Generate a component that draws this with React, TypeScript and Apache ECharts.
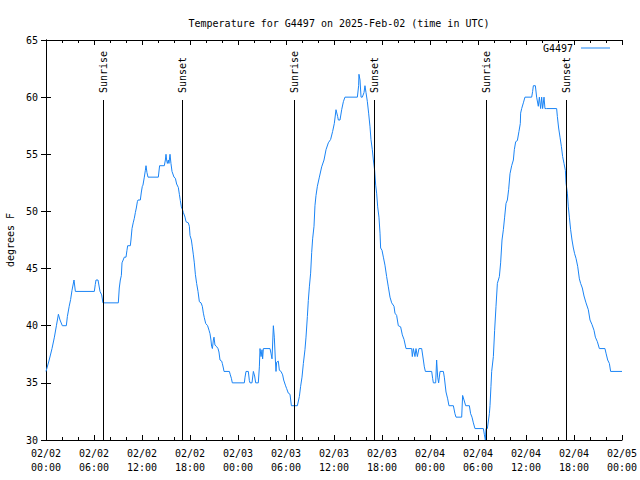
import React, { useEffect, useRef } from "react";
import * as echarts from "echarts";

// Time origin: 2025-02-02 00:00 UTC; x values are hours since then
const START_MS = Date.UTC(2025, 1, 2, 0, 0, 0);

const hours = [
  0.0, 0.4, 0.75, 1.05, 1.3, 1.55, 1.75, 2.04, 2.54, 2.67, 2.9, 3.08, 3.25, 3.5, 3.67,
  6.04, 6.16, 6.25, 6.5, 6.75, 6.96, 7.12, 9.04, 9.16, 9.29, 9.42, 9.5, 9.79, 10.0,
  10.12, 10.21, 10.54, 10.62, 10.75, 10.9, 11.04, 11.17, 11.29, 11.42, 11.5, 11.79,
  11.92, 12.04, 12.12, 12.29, 12.42, 12.5, 12.62, 12.75, 14.04, 14.2, 14.79, 14.92,
  15.0, 15.08, 15.17, 15.29, 15.37, 15.5, 15.62, 15.75, 16.0, 16.17, 16.33, 16.54,
  16.67, 16.79, 16.92, 17.04, 17.17, 17.38, 17.5, 17.79, 17.92, 18.0, 18.17, 18.29,
  18.42, 18.54, 18.67, 18.83, 19.0, 19.17, 19.38, 19.54, 19.67, 19.79, 19.96, 20.2,
  20.38, 20.5, 20.62, 20.7, 20.8, 20.92, 21.0, 21.12, 21.3, 21.5, 21.62, 21.75, 21.96,
  22.04, 22.17, 22.25, 22.92, 23.04, 23.17, 23.29, 24.79, 24.88, 25.0, 25.29, 25.42,
  25.5, 25.75, 25.92, 26.08, 26.21, 26.54, 26.67, 26.75, 26.88, 27.0, 27.08, 27.17,
  28.0, 28.12, 28.25, 28.33, 28.42, 28.54, 28.67, 28.75, 28.83, 29.04, 29.17, 29.38,
  29.58, 29.71, 29.92, 30.08, 30.29, 30.5, 30.67, 31.42, 31.67, 31.83, 32.0, 32.17,
  32.37, 32.5, 32.67, 32.79, 32.92, 33.08, 33.21, 33.33, 33.5, 33.62, 33.75, 33.92,
  34.17, 34.46, 34.75, 35.0, 35.29, 35.58, 35.83, 36.04, 36.25, 36.46, 36.54, 36.75,
  36.96, 37.17, 37.37, 38.92, 39.08, 39.12, 39.25, 39.38, 39.54, 39.75, 39.87, 40.0,
  40.17, 40.33, 40.5, 40.62, 40.79, 40.92, 41.08, 41.21, 41.33, 41.46, 41.62, 41.75,
  41.83, 42.0, 42.17, 42.37, 42.58, 42.79, 43.0, 43.21, 43.5, 43.62, 43.83, 44.04,
  44.33, 44.54, 44.75, 45.0, 45.71, 45.79, 45.92, 46.12, 46.25, 46.42, 46.62, 46.96,
  47.17, 47.29, 47.42, 48.21, 48.33, 48.42, 48.71, 48.83, 48.96, 49.08, 49.25, 49.67,
  49.79, 50.0, 50.21, 50.37, 50.92, 51.12, 51.25, 51.96, 52.08, 52.25, 52.46, 52.92,
  53.08, 53.25, 53.42, 53.62, 54.67, 54.79, 54.92, 55.0, 55.17, 55.42, 55.5, 55.62,
  55.71, 55.92, 56.08, 56.25, 56.42, 56.67, 56.83, 57.0, 57.17, 57.33, 57.5, 57.67,
  57.83, 58.0, 58.21, 58.42, 58.54, 58.71, 58.92, 59.12, 59.29, 59.33, 59.46, 59.67,
  59.87, 60.71, 60.83, 60.92, 61.17, 61.33, 61.54, 61.67, 61.83, 61.96, 62.08, 62.25,
  62.37, 62.58, 63.83, 63.92, 64.08, 64.25, 64.42, 64.58, 64.75, 64.92, 65.0, 65.17,
  65.29, 65.42, 65.58, 65.75, 65.92, 66.08, 66.25, 66.46, 66.67, 66.83, 67.04, 67.25,
  67.5, 67.79, 68.0, 68.25, 68.5, 68.67, 68.92, 69.17, 69.87, 70.0, 70.21, 70.42,
  70.58, 72.0,
];

const temps = [
  36, 37, 38, 39, 40, 41, 40.5, 40, 40, 40.8, 41.7, 42.3, 43.1, 44, 43,
  43, 43.6, 44, 44, 43, 42.7, 42, 42, 43.3, 44, 44.4, 45.5, 46, 46,
  46.6, 47, 47, 47.5, 48.5, 49, 49.4, 49.9, 50.3, 50.85, 51, 51,
  51.7, 52.2, 52.3, 53, 53.6, 54, 53.4, 53, 53, 54, 54, 54.5,
  55, 54.5, 54.2, 54.5, 54.2, 55, 54.2, 53.5, 53, 52.9, 52.4, 52.1,
  51.5, 50.95, 50.4, 50.2, 49.9, 49.5, 49.1, 49.0, 48.7, 47.9, 47.5, 46.9,
  46.2, 45.5, 44.5, 43.7, 43.0, 42.1, 42.0, 41.7, 41.1, 40.7, 40.2, 40,
  39.6, 39.3, 38.75, 38.2, 38, 38.75, 39, 38.3, 38.2, 38, 37.7, 37, 36.9,
  36.7, 36.3, 36, 36, 35.7, 35.4, 35, 35, 35.5, 36, 36, 35.2,
  35, 35, 36, 35.6, 35, 35, 36.4, 38, 37.3, 37.9, 37.1, 38,
  38, 37.6, 37.1, 38.4, 40, 39, 37, 36, 36.8, 36.9, 36.1, 36,
  35.7, 35.25, 34.8, 34.5, 34.1, 34, 33, 33, 33.8, 34.7, 35.5, 36.7,
  37.9, 39, 40.8, 42.2, 43.4, 44.6, 46.4, 47.6, 48.7, 50.5, 51.4, 52.2,
  53, 53.9, 54.5, 55.4, 56, 56.3, 57, 57.7, 58.9, 58.3, 58, 58,
  58.9, 59.6, 60, 60, 61, 62, 61.5, 60, 60, 60.4, 61, 60.4,
  59.6, 58.6, 57.4, 56.3, 55.4, 54.5, 53.6, 52.3, 51.6, 50.4, 49.5, 48.1,
  46.8, 46.6, 46, 45.3, 44.3, 43.4, 42.5, 42, 41.7, 41.1, 40.9, 40,
  39.9, 39.2, 38.8, 38, 38, 37.3, 38, 37.3, 38, 37.3, 38, 38,
  37, 36.4, 36, 36, 35.4, 35, 35, 37, 35.5, 35, 36, 36,
  35.5, 34.2, 33.6, 33, 33, 32.3, 32, 32, 33.9, 33.5, 33, 33,
  32.3, 32, 31.5, 31, 31, 30.5, 30, 31, 31, 32.3, 33, 34.7,
  36, 37.3, 39.6, 41.7, 43.7, 44.3, 45.5, 47.5, 48.4, 49.5, 50.7, 51,
  51.9, 53.3, 54, 54.5, 55.4, 56.1, 56.2, 57, 57.7, 58.6, 59, 59.5,
  60, 60, 60.5, 61, 61, 60, 59.2, 60, 59, 60, 59, 60,
  59, 59, 59, 58.3, 57.3, 56.5, 55.7, 54.8, 54.2, 53.6, 52.5, 51.6,
  50.4, 49.5, 48.4, 47.5, 46.8, 46.3, 45.9, 45.2, 44.1, 43.7, 43.3, 42.6,
  42, 41.4, 40.5, 40.1, 39.6, 39, 38.6, 38, 38, 37.6, 37, 36.7,
  36, 36,
];

const eventNames = ["Sunrise", "Sunset", "Sunrise", "Sunset", "Sunrise", "Sunset"];
const eventHours = [7.15, 17.05, 31.05, 41.05, 55.05, 65.05];
const eventLineTop = 59.75; // degrees F where the marker lines stop

const X_MIN = 0;
const X_MAX = 72;
const X_STEP = 6;
const Y_MIN = 30;
const Y_MAX = 65;
const Y_STEP = 5;

const seriesName = "G4497";
const titleText = "Temperature for G4497 on 2025-Feb-02 (time in UTC)";
const yName = "degrees F";

const FONT = '"DejaVu Sans Mono", "Liberation Mono", monospace';
const LINE_COLOR = "#1a84f5";

function pad(n: number) {
  return n < 10 ? "0" + n : "" + n;
}
function fmtHour(v: number) {
  const d = new Date(START_MS + v * 3600 * 1000);
  return (
    pad(d.getUTCMonth() + 1) + "/" + pad(d.getUTCDate()) + "\n" +
    pad(d.getUTCHours()) + ":" + pad(d.getUTCMinutes())
  );
}

export default function App() {
  const ref = useRef<HTMLDivElement>(null);
  useEffect(() => {
    if (!ref.current) return;
    const chart = echarts.init(ref.current, null, { renderer: "svg" });
    const axisLine = { show: true, lineStyle: { color: "#000", width: 1 } };
    const option: any = {
      animation: false,
      backgroundColor: "#fff",
      textStyle: { fontFamily: FONT, color: "#000" },
      title: {
        text: titleText,
        left: 334,
        top: 13,
        textAlign: "center",
        textStyle: { fontFamily: FONT, fontSize: 10, fontWeight: "normal", color: "#000" },
      },
      legend: {
        data: [{ name: seriesName, icon: "rect" }],
        right: 30,
        top: 43,
        align: "right",
        itemWidth: 29,
        itemHeight: 1,
        itemGap: 0,
        padding: 0,
        textStyle: { fontFamily: FONT, fontSize: 10, color: "#000", padding: [0, 3, 0, 0] },
      },
      grid: {
        left: 46,
        right: 18,
        top: 40,
        bottom: 40,
        containLabel: false,
        outerBoundsMode: "none",
      },
      xAxis: [
        {
          type: "value",
          min: X_MIN,
          max: X_MAX,
          interval: X_STEP,
          position: "bottom",
          axisLine,
          axisTick: { show: true, inside: true, length: 5, lineStyle: { color: "#000" } },
          minorTick: { show: true, splitNumber: 3, length: 3, lineStyle: { color: "#000" } },
          splitLine: { show: false },
          axisLabel: {
            formatter: fmtHour,
            fontFamily: FONT,
            fontSize: 10,
            color: "#000",
            lineHeight: 14,
            margin: 6,
          },
        },
        {
          type: "value",
          min: X_MIN,
          max: X_MAX,
          interval: X_STEP,
          position: "top",
          axisLine,
          axisTick: { show: true, inside: true, length: 5, lineStyle: { color: "#000" } },
          minorTick: { show: true, splitNumber: 3, length: 3, lineStyle: { color: "#000" } },
          splitLine: { show: false },
          axisLabel: { show: false },
        },
      ],
      yAxis: [
        {
          type: "value",
          min: Y_MIN,
          max: Y_MAX,
          interval: Y_STEP,
          position: "left",
          name: yName,
          nameLocation: "middle",
          nameGap: 31,
          nameTextStyle: { fontFamily: FONT, fontSize: 10, color: "#000" },
          axisLine,
          axisTick: { show: true, inside: true, length: 5, lineStyle: { color: "#000" } },
          splitLine: { show: false },
          axisLabel: { fontFamily: FONT, fontSize: 10, color: "#000", margin: 8 },
        },
        {
          type: "value",
          min: Y_MIN,
          max: Y_MAX,
          interval: Y_STEP,
          position: "right",
          axisLine,
          axisTick: { show: true, inside: true, length: 5, lineStyle: { color: "#000" } },
          splitLine: { show: false },
          axisLabel: { show: false },
        },
      ],
      series: [
        {
          name: seriesName,
          type: "line",
          xAxisIndex: 0,
          yAxisIndex: 0,
          data: hours.map((h, i) => [h, temps[i]]),
          symbol: "none",
          showSymbol: false,
          lineStyle: { color: LINE_COLOR, width: 1 },
          itemStyle: { color: LINE_COLOR },
          z: 3,
        },
        {
          name: "events",
          type: "custom",
          xAxisIndex: 0,
          yAxisIndex: 0,
          data: eventHours.map((h) => [h, Y_MIN]),
          z: 4,
          renderItem: (params: any, api: any) => {
            const h = api.value(0);
            const b = api.coord([h, Y_MIN]);
            const t = api.coord([h, eventLineTop]);
            const x = Math.round(b[0]) + 0.5;
            return {
              type: "group",
              children: [
                {
                  type: "line",
                  shape: { x1: x, y1: b[1], x2: x, y2: t[1] },
                  style: { stroke: "#000", lineWidth: 1 },
                },
                {
                  type: "text",
                  x: x,
                  y: t[1] - 7,
                  rotation: Math.PI / 2,
                  style: {
                    text: eventNames[params.dataIndex],
                    fill: "#000",
                    font: "10px " + FONT,
                    align: "left",
                    verticalAlign: "middle",
                  },
                },
              ],
            };
          },
        },
      ],
    };
    chart.setOption(option);
    return () => chart.dispose();
  }, []);
  return (
    <div
      ref={ref}
      style={{ position: "fixed", left: 0, top: 0, width: 640, height: 480, background: "#fff" }}
    />
  );
}
